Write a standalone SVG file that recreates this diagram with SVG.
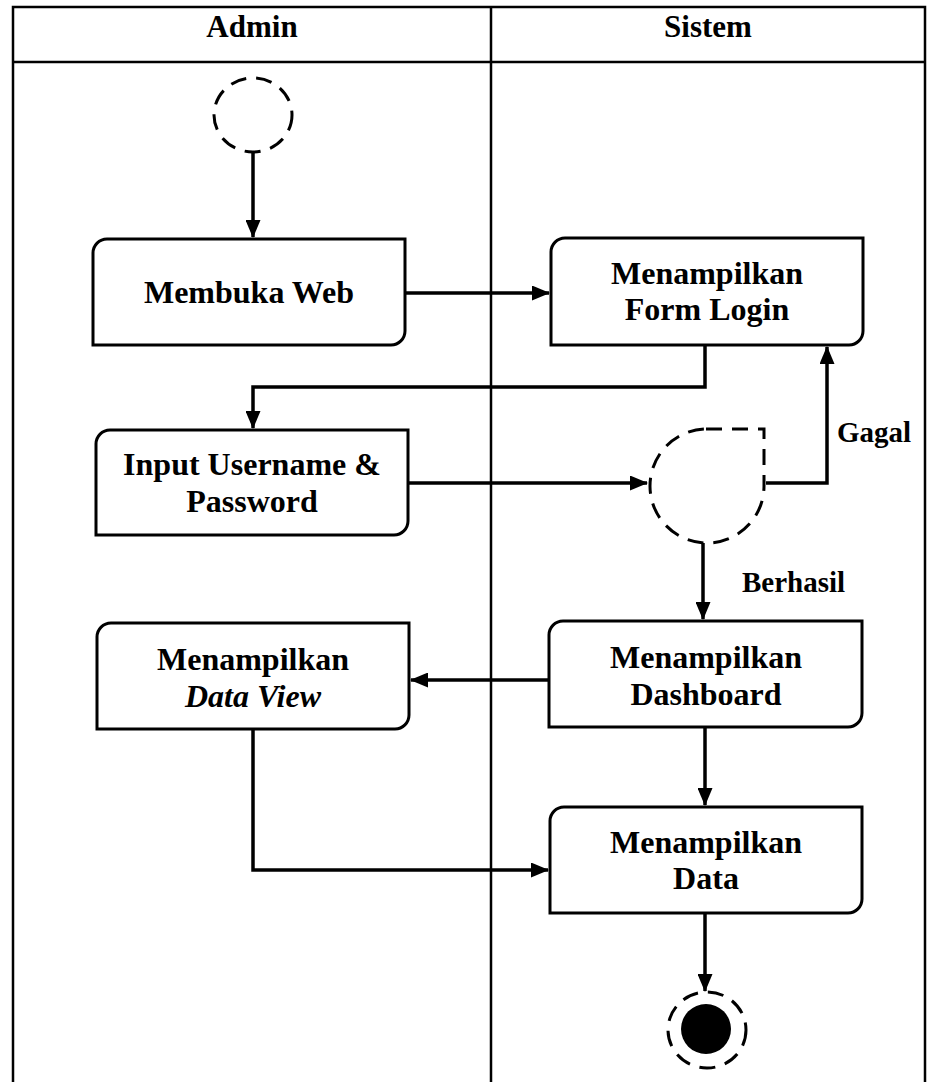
<svg xmlns="http://www.w3.org/2000/svg" width="928" height="1082" viewBox="0 0 928 1082">
<style>
.lane{stroke:#000;stroke-width:2.5;fill:none}
.box{fill:#fff;stroke:#000;stroke-width:3}
.dash{fill:none;stroke:#000;stroke-width:3;stroke-dasharray:16 10}
.conn{fill:none;stroke:#000;stroke-width:3.5}
text{font-family:"Liberation Serif","Times New Roman",serif;font-weight:bold;fill:#000}
.t{font-size:32px;text-anchor:middle}
.h{font-size:31px;text-anchor:middle}
.lbl{font-size:29px}
</style>
<defs>
<marker id="arr" markerUnits="userSpaceOnUse" markerWidth="18" markerHeight="15" refX="17" refY="7.5" orient="auto">
<path d="M0,0 L18,7.5 L0,15 Z" fill="#000"/>
</marker>
</defs>
<rect width="928" height="1082" fill="#fff"/>
<g id="lanes">
<path class="lane" d="M13,1082 V7 H925 V1082 M13,62 H925 M491,7 V1082"/>
<text class="h" x="252" y="37">Admin</text>
<text class="h" x="708" y="37">Sistem</text>
</g>
<g id="connectors">
<path class="conn" d="M253,152 V237" marker-end="url(#arr)"/>
<path class="conn" d="M405,293 H549" marker-end="url(#arr)"/>
<path class="conn" d="M705,345 V387 H253 V428" marker-end="url(#arr)"/>
<path class="conn" d="M408,483 H647" marker-end="url(#arr)"/>
<path class="conn" d="M766,483 H827 V347" marker-end="url(#arr)"/>
<path class="conn" d="M703,543 V619" marker-end="url(#arr)"/>
<path class="conn" d="M549,680 H411" marker-end="url(#arr)"/>
<path class="conn" d="M253,729 V870 H548" marker-end="url(#arr)"/>
<path class="conn" d="M705,727 V805" marker-end="url(#arr)"/>
<path class="conn" d="M705,913 V991" marker-end="url(#arr)"/>
<text class="lbl" x="837" y="442">Gagal</text>
<text class="lbl" x="742" y="592">Berhasil</text>
</g>
<g id="start">
<ellipse class="dash" cx="253" cy="115" rx="39" ry="37"/>
</g>
<g id="membuka-web">
<path class="box" d="M93,253 A14,14 0 0 1 107,239 H405 V331 A14,14 0 0 1 391,345 H93 Z"/>
<text class="t" x="249" y="303">Membuka Web</text>
</g>
<g id="form-login">
<path class="box" d="M551,252 A14,14 0 0 1 565,238 H863 V331 A14,14 0 0 1 849,345 H551 Z"/>
<text class="t" x="707" y="284">Menampilkan</text>
<text class="t" x="707" y="320">Form Login</text>
</g>
<g id="input">
<path class="box" d="M96,444 A14,14 0 0 1 110,430 H408 V521 A14,14 0 0 1 394,535 H96 Z"/>
<text class="t" x="252" y="475">Input Username &amp;</text>
<text class="t" x="252" y="512">Password</text>
</g>
<g id="decision">
<path class="dash" d="M706,429 H764 V486 A57,57 0 1 1 706,429 Z"/>
</g>
<g id="data-view">
<path class="box" d="M97,637 A14,14 0 0 1 111,623 H409 V715 A14,14 0 0 1 395,729 H97 Z"/>
<text class="t" x="253" y="670">Menampilkan</text>
<text class="t" x="253" y="707" font-style="italic">Data View</text>
</g>
<g id="dashboard">
<path class="box" d="M549,635 A14,14 0 0 1 563,621 H862 V713 A14,14 0 0 1 848,727 H549 Z"/>
<text class="t" x="706" y="668">Menampilkan</text>
<text class="t" x="706" y="705">Dashboard</text>
</g>
<g id="data">
<path class="box" d="M550,821 A14,14 0 0 1 564,807 H862 V899 A14,14 0 0 1 848,913 H550 Z"/>
<text class="t" x="706" y="853">Menampilkan</text>
<text class="t" x="706" y="889">Data</text>
</g>
<g id="end">
<ellipse class="dash" cx="707" cy="1030" rx="39" ry="38"/>
<circle cx="706" cy="1029" r="25" fill="#000"/>
</g>
</svg>
